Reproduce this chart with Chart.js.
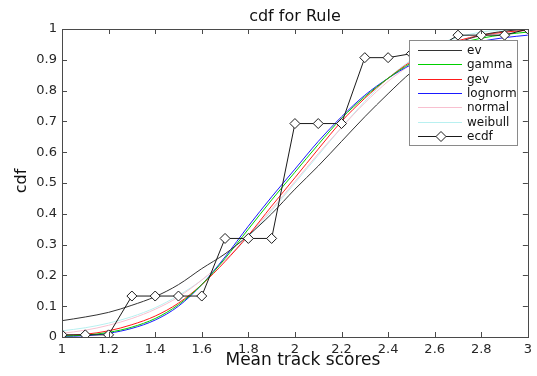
<!DOCTYPE html>
<html>
<head>
<meta charset="utf-8">
<script src="https://cdn.jsdelivr.net/npm/chart.js@4.4.0/dist/chart.umd.min.js"></script>
<style>
  html, body { margin: 0; padding: 0; background: #fff; }
</style>
</head>
<body>
<canvas id="grafico" width="537" height="376"></canvas>
<script>
// dados
const scores = [1.0, 1.1, 1.2, 1.3, 1.4, 1.5, 1.6, 1.7, 1.8, 1.9, 2.0, 2.1, 2.2, 2.3, 2.4, 2.5, 2.6, 2.7, 2.8, 2.9, 3.0];
const evCdf =       [0.053, 0.065, 0.08, 0.103, 0.131, 0.17, 0.222, 0.27, 0.33, 0.40, 0.48, 0.555, 0.635, 0.715, 0.79, 0.86, 0.915, 0.955, 0.98, 0.993, 1.0];
const gammaCdf =    [0.003, 0.006, 0.015, 0.032, 0.06, 0.105, 0.17, 0.255, 0.35, 0.445, 0.535, 0.625, 0.71, 0.78, 0.84, 0.89, 0.925, 0.952, 0.97, 0.982, 0.99];
const gevCdf =      [0.005, 0.009, 0.02, 0.04, 0.068, 0.11, 0.17, 0.245, 0.33, 0.425, 0.517, 0.61, 0.70, 0.775, 0.84, 0.895, 0.935, 0.962, 0.98, 0.99, 0.996];
const lognormCdf =  [0.002, 0.004, 0.012, 0.028, 0.055, 0.10, 0.17, 0.26, 0.36, 0.455, 0.545, 0.635, 0.715, 0.785, 0.84, 0.885, 0.92, 0.945, 0.96, 0.972, 0.98];
const normalCdf =   [0.012, 0.022, 0.038, 0.06, 0.09, 0.13, 0.185, 0.25, 0.33, 0.415, 0.505, 0.595, 0.68, 0.76, 0.83, 0.885, 0.928, 0.958, 0.977, 0.988, 0.995];
const weibullCdf =  [0.02, 0.03, 0.045, 0.066, 0.095, 0.135, 0.185, 0.25, 0.325, 0.41, 0.50, 0.59, 0.68, 0.765, 0.84, 0.90, 0.945, 0.973, 0.99, 0.997, 1.0];
const ecdfValues =  [0.007, 0.007, 0.007, 0.133, 0.133, 0.133, 0.133, 0.32, 0.32, 0.32, 0.693, 0.693, 0.693, 0.907, 0.907, 0.92, 0.933, 0.98, 0.98, 0.98, 1.0];
const seriesNames = ['ev', 'gamma', 'gev', 'lognorm', 'normal', 'weibull', 'ecdf'];
const seriesColors = ['#333333', '#00d000', '#ff1a1a', '#1a1aff', '#f8c0d0', '#b8f0f0', '#1a1a1a'];

const fontFamily = '"DejaVu Sans", sans-serif';

function toPoints(ys) {
    return scores.map((x, i) => ({ x: x, y: ys[i] }));
}

const allSeries = [evCdf, gammaCdf, gevCdf, lognormCdf, normalCdf, weibullCdf, ecdfValues];
const datasets = allSeries.map((ys, i) => {
    const isEcdf = seriesNames[i] === 'ecdf';
    return {
        label: seriesNames[i],
        data: toPoints(ys),
        borderColor: seriesColors[i],
        borderWidth: 1,
        fill: false,
        cubicInterpolationMode: isEcdf ? 'default' : 'monotone',
        tension: 0,
        pointStyle: 'rectRot',
        pointRadius: isEcdf ? 5 : 0,
        pointBackgroundColor: '#ffffff',
        pointBorderColor: seriesColors[i],
        pointBorderWidth: 1,
        order: isEcdf ? 0 : 1
    };
});

// caixa, marcas, títulos e legenda ao estilo MATLAB
const matlabPlugin = {
    id: 'matlabBox',
    afterDraw(chart) {
        const ctx = chart.ctx;
        const a = chart.chartArea;
        const xs = chart.scales.x;
        const ys = chart.scales.y;
        ctx.save();
        ctx.strokeStyle = '#4a4a4a';
        ctx.lineWidth = 1;
        ctx.strokeRect(Math.round(a.left) + 0.5, Math.round(a.top) + 0.5,
                       Math.round(a.right - a.left), Math.round(a.bottom - a.top));
        ctx.beginPath();
        xs.ticks.forEach(t => {
            const px = Math.round(xs.getPixelForValue(t.value)) + 0.5;
            ctx.moveTo(px, a.bottom); ctx.lineTo(px, a.bottom - 5);
            ctx.moveTo(px, a.top); ctx.lineTo(px, a.top + 5);
        });
        ys.ticks.forEach(t => {
            const py = Math.round(ys.getPixelForValue(t.value)) + 0.5;
            ctx.moveTo(a.left, py); ctx.lineTo(a.left + 5, py);
            ctx.moveTo(a.right, py); ctx.lineTo(a.right - 5, py);
        });
        ctx.stroke();

        // textos
        ctx.fillStyle = '#111';
        ctx.textAlign = 'center';
        ctx.textBaseline = 'middle';
        ctx.font = '16px ' + fontFamily;
        ctx.fillText('cdf for Rule', (a.left + a.right) / 2, 17);
        ctx.font = '17px ' + fontFamily;
        ctx.fillText('Mean track scores', (a.left + a.right) / 2 + 8, 361);
        ctx.save();
        ctx.translate(22, (a.top + a.bottom) / 2 - 2);
        ctx.rotate(-Math.PI / 2);
        ctx.font = '16px ' + fontFamily;
        ctx.fillText('cdf', 0, 0);
        ctx.restore();

        // legenda
        const lx = 409, ly = 40, lw = 108, lh = 105;
        ctx.fillStyle = '#fff';
        ctx.fillRect(lx, ly, lw, lh);
        ctx.strokeStyle = '#8a8a8a';
        ctx.strokeRect(lx + 0.5, ly + 0.5, lw, lh);
        ctx.font = '12px ' + fontFamily;
        ctx.textAlign = 'left';
        chart.data.datasets.forEach((ds, i) => {
            const cy = Math.round(50 + i * 14.3) + 0.5;
            ctx.strokeStyle = ds.borderColor;
            ctx.lineWidth = 1;
            ctx.beginPath();
            ctx.moveTo(418, cy); ctx.lineTo(462, cy);
            ctx.stroke();
            if (ds.pointRadius > 0) {
                ctx.fillStyle = '#fff';
                ctx.beginPath();
                ctx.moveTo(441, cy - 5); ctx.lineTo(446, cy);
                ctx.lineTo(441, cy + 5); ctx.lineTo(436, cy);
                ctx.closePath();
                ctx.fill(); ctx.stroke();
            }
            ctx.fillStyle = '#111';
            ctx.fillText(ds.label, 467, cy);
        });
        ctx.restore();
    }
};

const ctx = document.getElementById('grafico').getContext('2d');
const chart = new Chart(ctx, {
    type: 'line',
    data: { datasets: datasets },
    options: {
        responsive: false,
        animation: false,
        devicePixelRatio: 1,
        layout: { padding: { left: 0, right: 5, top: 29, bottom: 0 } },
        plugins: {
            legend: { display: false },
            title: { display: false },
            tooltip: { enabled: false }
        },
        scales: {
            x: {
                type: 'linear',
                min: 1,
                max: 3,
                afterFit: s => { s.height = 39; },
                grid: { display: false, drawTicks: false },
                border: { display: false },
                ticks: {
                    stepSize: 0.2,
                    padding: 5,
                    color: '#262626',
                    font: { family: fontFamily, size: 13 },
                    maxRotation: 0,
                    callback: v => String(Number(v.toFixed(1)))
                }
            },
            y: {
                min: 0,
                max: 1,
                afterFit: s => { s.width = 62; },
                grid: { display: false, drawTicks: false },
                border: { display: false },
                ticks: {
                    stepSize: 0.1,
                    padding: 5,
                    color: '#262626',
                    font: { family: fontFamily, size: 13 },
                    callback: v => String(Number(v.toFixed(1)))
                }
            }
        }
    },
    plugins: [matlabPlugin]
});
</script>
</body>
</html>
